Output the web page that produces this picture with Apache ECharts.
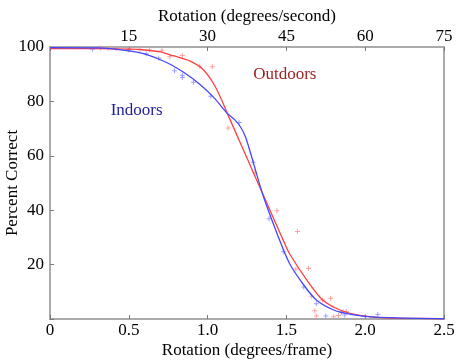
<!DOCTYPE html>
<html>
<head>
<meta charset="utf-8">
<script src="https://cdn.jsdelivr.net/npm/echarts@6/dist/echarts.min.js"></script>
<style>
  html, body { margin: 0; padding: 0; background: #fff; }
  #chart { width: 456px; height: 360px; }
</style>
</head>
<body>
<div id="chart"></div>
<script>
// fitted curves: [degrees/frame, percent correct]
const outdoorsCurve = [
  [0, 99.4], [0.3, 99.4], [0.5, 99.2], [0.6, 98.9], [0.7, 98.2], [0.78, 96.8],
  [0.89, 94.8], [0.97, 91.8], [1.04, 86.3], [1.09, 80.4], [1.125, 75.6],
  [1.16, 71.0], [1.25, 59.2], [1.33, 48.6], [1.42, 36.8], [1.48, 28.9],
  [1.52, 24.0], [1.63, 14.3], [1.73, 7.0], [1.84, 3.3], [1.95, 1.5],
  [2.07, 0.6], [2.2, 0.3], [2.5, 0.1]
]
const indoorsCurve = [
  [0, 99.8], [0.3, 99.7], [0.5, 98.6], [0.61, 97.3], [0.74, 94.3], [0.85, 90.6],
  [0.95, 86.3], [1.04, 81.4], [1.125, 75.6], [1.17, 73.4], [1.21, 70.5],
  [1.24, 67.0], [1.27, 61.5], [1.30, 55.5], [1.33, 49.5], [1.36, 44.0],
  [1.45, 30.0], [1.52, 20.4], [1.61, 12.5], [1.69, 7.0], [1.80, 3.3],
  [1.9, 1.8], [2.0, 1.0], [2.2, 0.4], [2.5, 0.1]
]
// measured points
const outdoorsPts = [
  [0.32, 99.6], [0.37, 99.5], [0.42, 99.4], [0.50, 99.3], [0.57, 99.2],
  [0.63, 98.9], [0.71, 98.8], [0.76, 96.4], [0.84, 96.9], [0.95, 92.9],
  [1.03, 92.7], [1.13, 70.2], [1.30, 53.7], [1.44, 39.8], [1.57, 32.2],
  [1.56, 18.4], [1.64, 18.6], [1.66, 8.4], [1.73, 7.0], [1.78, 7.6],
  [1.68, 3.0], [1.69, 1.1], [1.80, 0.8], [1.83, 1.3], [1.86, 2.8], [1.88, 2.8]
]
const indoorsPts = [
  [0.27, 99.2], [0.50, 98.9], [0.61, 97.5], [0.69, 95.9], [0.79, 91.3],
  [0.84, 89.6], [0.84, 88.8], [0.91, 87.0], [1.02, 81.9], [1.20, 72.2],
  [1.29, 57.6], [1.39, 36.9], [1.48, 24.7], [1.61, 11.8], [1.69, 5.6],
  [1.75, 1.1], [1.85, 2.3], [1.87, 1.5], [2.00, 0.9], [2.08, 1.7]
]
const xTicks = [0, 0.5, 1.0, 1.5, 2.0, 2.5]
const topTicks = [15, 30, 45, 60, 75]
const yTicks = [20, 40, 60, 80, 100]

const serif = 'Liberation Serif'
const gray = '#aaaaaa'
const plus = 'path://M2,0H3V2H5V3H3V5H2V3H0V2H2Z'
const txt = { color: '#000', fontFamily: serif, fontSize: 17 }

function axisStyle() {
  return {
    axisLine: { show: true, lineStyle: { color: gray, width: 2 } },
    axisTick: { show: true, inside: true, length: 4, lineStyle: { color: '#777', width: 1 } },
    splitLine: { show: false },
    nameTextStyle: txt,
    nameMoveOverlap: false
  }
}

const chart = echarts.init(document.getElementById('chart'))
chart.setOption({
  animation: false,
  grid: { left: 50, right: 12, top: 47, bottom: 41, outerBoundsMode: 'none',
    show: true, borderColor: gray, borderWidth: 2 },
  xAxis: [
    Object.assign(axisStyle(), {
      type: 'value', position: 'bottom', min: 0, max: 2.5, interval: 0.5,
      name: 'Rotation (degrees/frame)', nameLocation: 'middle', nameGap: 23,
      axisLabel: Object.assign({}, txt, { margin: 3,
        formatter: v => xTicks.indexOf(v) < 0 ? '' : (v === 0 ? '0' : v.toFixed(1)) })
    }),
    Object.assign(axisStyle(), {
      type: 'value', position: 'top', min: 0, max: 75, interval: 15,
      name: 'Rotation (degrees/second)', nameLocation: 'middle', nameGap: 22,
      axisLabel: Object.assign({}, txt, { margin: 2,
        formatter: v => topTicks.indexOf(v) < 0 ? '' : String(v) })
    })
  ],
  yAxis: Object.assign(axisStyle(), {
    type: 'value', min: 0, max: 100, interval: 20,
    name: 'Percent Correct', nameLocation: 'middle', nameGap: 29,
    axisLabel: Object.assign({}, txt, { margin: 6,
      formatter: v => yTicks.indexOf(v) < 0 ? '' : String(v) })
  }),
  series: [
    { type: 'scatter', data: outdoorsPts, symbol: plus, symbolSize: 5,
      itemStyle: { color: '#ff8a8a' }, z: 2 },
    { type: 'scatter', data: indoorsPts, symbol: plus, symbolSize: 5,
      itemStyle: { color: '#8a8aff' }, z: 2 },
    { type: 'line', name: 'Outdoors', data: outdoorsCurve, smooth: 0.3,
      showSymbol: false, lineStyle: { color: '#ff4040', width: 1.3 }, z: 3 },
    { type: 'line', name: 'Indoors', data: indoorsCurve, smooth: 0.3,
      showSymbol: false, lineStyle: { color: '#4646ff', width: 1.3 }, z: 4 }
  ]
})

// curve labels placed in data coordinates
const pIn = chart.convertToPixel({ gridIndex: 0 }, [0.55, 76.6])
const pOut = chart.convertToPixel({ gridIndex: 0 }, [1.49, 89.7])
chart.setOption({
  graphic: [
    { type: 'text', x: pIn[0], y: pIn[1], style: { text: 'Indoors', fill: '#1f1f9e',
      font: '17px "Liberation Serif"', textAlign: 'center', textVerticalAlign: 'middle' } },
    { type: 'text', x: pOut[0], y: pOut[1], style: { text: 'Outdoors', fill: '#9e1f1f',
      font: '17px "Liberation Serif"', textAlign: 'center', textVerticalAlign: 'middle' } }
  ]
})
</script>
</body>
</html>
